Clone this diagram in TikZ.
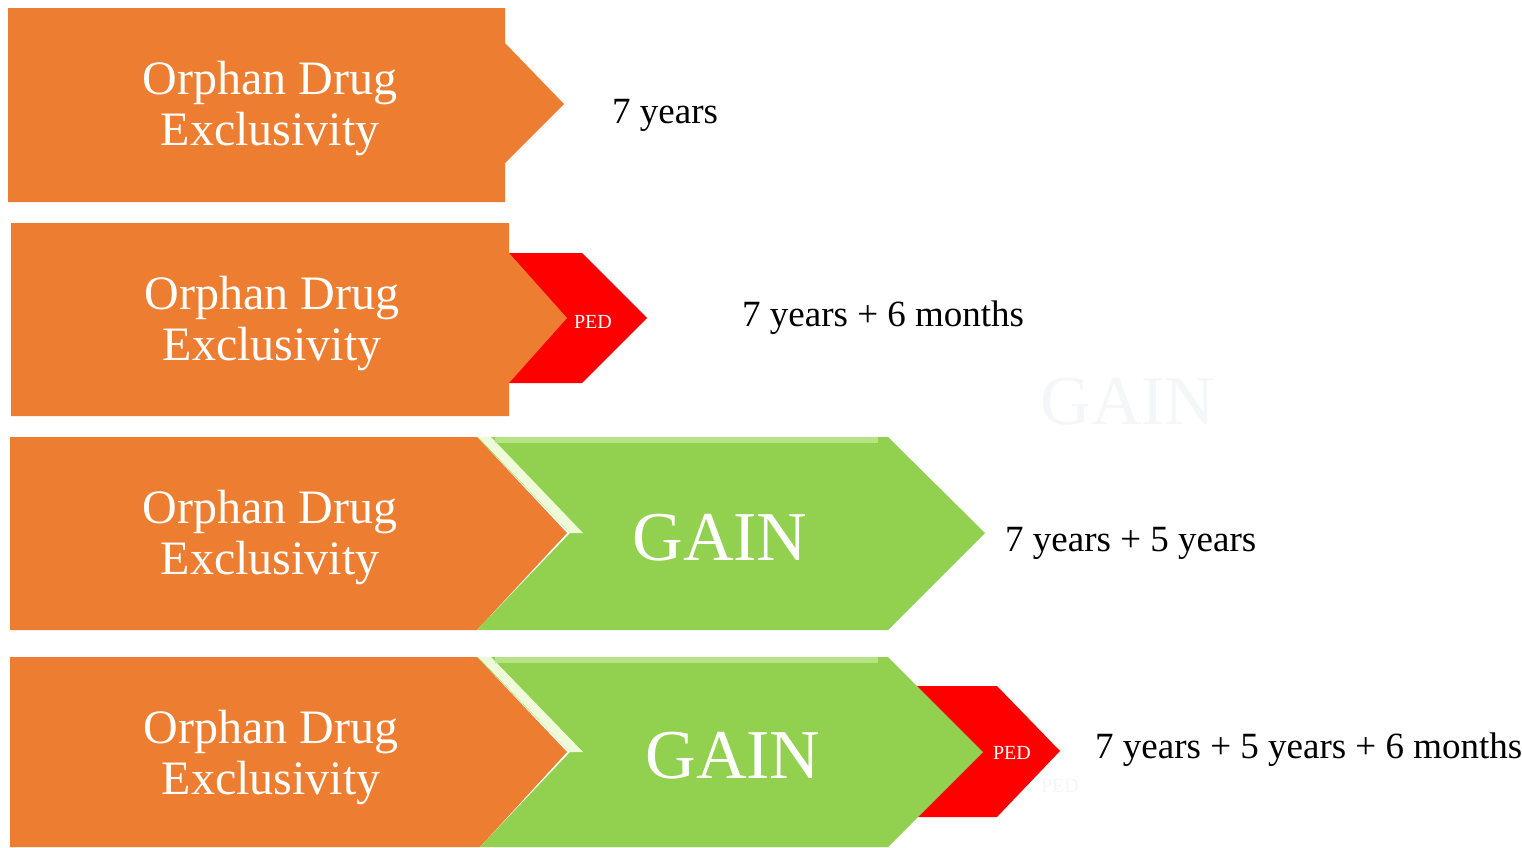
\documentclass[tikz,border=0pt]{standalone}
\usepackage{fontspec}
\setmainfont{Liberation Serif}
\definecolor{odeorange}{HTML}{ED7D31}
\definecolor{gaingreen}{HTML}{92D050}
\definecolor{gainlight}{HTML}{B6E485}
\definecolor{gainedge}{HTML}{EEFAD8}
\definecolor{pedred}{HTML}{FF0000}
\definecolor{ghost}{HTML}{F4F6F7}
\tikzset{
  orangeshape/.style={fill=odeorange, draw=none},
  greenshape/.style={fill=gaingreen, draw=none},
  redshape/.style={fill=pedred, draw=none},
  edgeshape/.style={fill=gainedge, draw=none},
  odetext/.style={anchor=base, inner sep=0pt, text=white, font=\fontsize{48}{48}\selectfont},
  gaintext/.style={anchor=base, inner sep=0pt, text=white, font=\fontsize{70}{70}\selectfont},
  pedtext/.style={anchor=base, inner sep=0pt, text=white, font=\fontsize{20}{20}\selectfont},
  durtext/.style={anchor=base west, inner sep=0pt, text=black, font=\fontsize{37}{37}\selectfont},
}
\begin{document}
\begin{tikzpicture}[x=1pt,y=-1pt]
\useasboundingbox (0,0) rectangle (1522,847);
\fill[white] (0,0) rectangle (1522,847);

% ---- Row 1
\path[orangeshape] (8,8) -- (505,8) -- (505,43) -- (564,104) -- (505,163) -- (505,202) -- (8,202) -- cycle;
\node[odetext] (o1a) at (270,94) {Orphan Drug};
\node[odetext] (o1b) at (270,145) {Exclusivity};
\node[durtext] (d1) at (612,123) {7 years};

% ---- Row 2
\path[redshape] (500,253) -- (582,253) -- (647,318) -- (582,383) -- (500,383) -- cycle;
\path[orangeshape] (11,223) -- (509,223) -- (509,253) -- (567,318) -- (509,383) -- (509,416) -- (11,416) -- cycle;
\node[pedtext] (p2) at (593,328) {PED};
\node[odetext] (o2a) at (272,309) {Orphan Drug};
\node[odetext] (o2b) at (272,360) {Exclusivity};
\node[durtext] (d2) at (742,326) {7 years + 6 months};

% ghost text
\node[gaintext, text=ghost] (g0) at (1128,424) {GAIN};

% ---- Row 3
\path[orangeshape] (10,437) -- (477,437) -- (567,533) -- (477,630) -- (10,630) -- cycle;
\path[greenshape] (477,437) -- (888,437) -- (985,533) -- (888,630) -- (477,630) -- (570,533) -- cycle;
\path[edgeshape] (478,437) -- (491,437) -- (583,533) -- (570,533) -- cycle;
\draw[gainlight, line width=6pt] (495,440) -- (878,440);
\node[odetext] (o3a) at (270,523) {Orphan Drug};
\node[odetext] (o3b) at (270,574) {Exclusivity};
\node[gaintext] (g3) at (720,560) {GAIN};
\node[durtext] (d3) at (1005,551) {7 years + 5 years};

% ---- Row 4
\path[redshape] (910,686) -- (997,686) -- (1060,751) -- (997,817) -- (910,817) -- cycle;
\path[orangeshape] (10,657) -- (477,657) -- (567,752) -- (480,847) -- (10,847) -- cycle;
\path[greenshape] (477,657) -- (888,657) -- (983,752) -- (888,847) -- (480,847) -- (570,752) -- cycle;
\path[edgeshape] (478,657) -- (491,657) -- (583,752) -- (570,752) -- cycle;
\draw[gainlight, line width=6pt] (495,660) -- (878,660);
\node[odetext] (o4a) at (271,743) {Orphan Drug};
\node[odetext] (o4b) at (271,794) {Exclusivity};
\node[gaintext] (g4) at (733,778) {GAIN};
\node[pedtext] (p4) at (1012,759) {PED};
\node[pedtext, text=ghost] (p4g) at (1060,792) {PED};
\node[durtext] (d4) at (1095,758) {7 years + 5 years + 6 months};
\end{tikzpicture}
\end{document}
